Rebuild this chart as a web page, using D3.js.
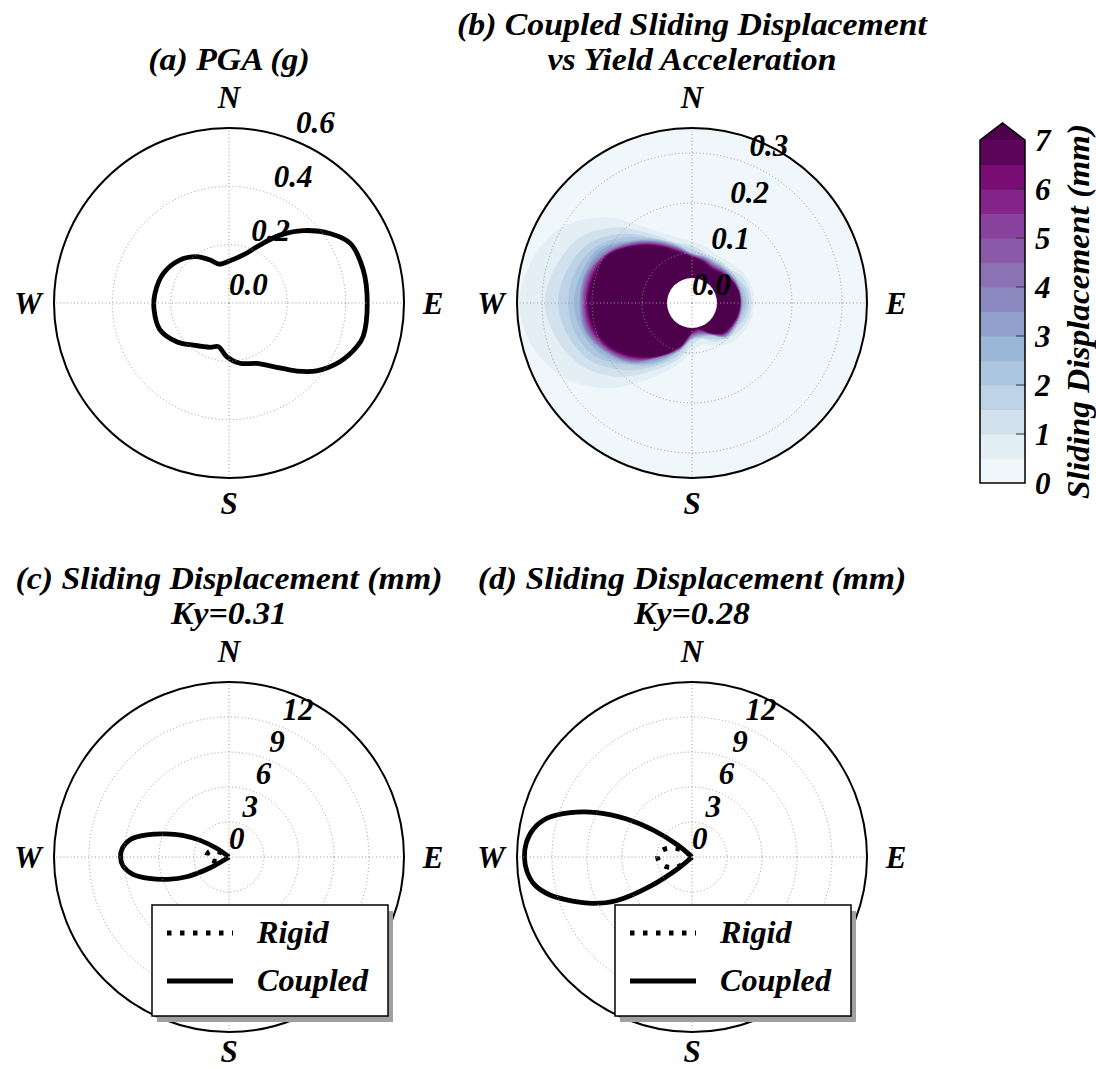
<!DOCTYPE html>
<html>
<head>
<meta charset="utf-8">
<script src="https://cdn.jsdelivr.net/npm/d3@7"></script>
<style>
  body { margin: 0; background: #fff; }
  text { font-family: "Liberation Serif", serif; font-style: italic; font-weight: bold; fill: #000; }
</style>
</head>
<body>
<svg id="chart" width="1096" height="1069"></svg>
<script>

// (a) PGA by direction (bearing in degrees clockwise from N, value in g)
const pgaBearing = [1.4, 16.6, 28, 36.9, 45.8, 55.4, 63.7, 76, 90, 104, 108.9, 117.9, 127.7, 135, 145,
    155.4, 169.7, 182.5, 193.7, 203, 220, 233.5, 249, 265, 277, 294, 311, 325, 337.7, 346];
const pgaValue = [0.145, 0.172, 0.225, 0.291, 0.356, 0.42, 0.463, 0.474, 0.474, 0.474, 0.463, 0.43, 0.38, 0.33, 0.266,
    0.228, 0.21, 0.184, 0.154, 0.165, 0.189, 0.223, 0.254, 0.258, 0.256, 0.247, 0.224, 0.194, 0.157, 0.137];

// (b) coupled sliding displacement (mm): one row per bearing, one column per yield acceleration
const fieldBearing = [0, 15, 30, 45, 60, 75, 90, 105, 120, 135, 150, 165,
    180, 195, 210, 225, 240, 255, 270, 285, 300, 315, 330, 345];
const fieldKy = [0.05, 0.075, 0.1, 0.125, 0.15, 0.175, 0.2, 0.225, 0.25, 0.275, 0.3, 0.325, 0.35];
const fieldDisp = [
    [25, 17.6, 2.0, 0.4, 0, 0, 0, 0, 0, 0, 0, 0, 0],
    [20, 10.9, 1.12, 0.08, 0, 0, 0, 0, 0, 0, 0, 0, 0],
    [15, 7.85, 0.74, 0, 0, 0, 0, 0, 0, 0, 0, 0, 0],
    [18, 9.84, 0.96, 0, 0, 0, 0, 0, 0, 0, 0, 0, 0],
    [24, 15, 1.7, 0.2, 0, 0, 0, 0, 0, 0, 0, 0, 0],
    [35, 24.6, 2.6, 0.39, 0, 0, 0, 0, 0, 0, 0, 0, 0],
    [40, 28.5, 2.9, 0.46, 0, 0, 0, 0, 0, 0, 0, 0, 0],
    [32, 21.9, 2.3, 0.31, 0, 0, 0, 0, 0, 0, 0, 0, 0],
    [24, 15.1, 1.6, 0.1, 0, 0, 0, 0, 0, 0, 0, 0, 0],
    [20, 11, 1.0, 0, 0, 0, 0, 0, 0, 0, 0, 0, 0],
    [19.6, 2.1, 0.31, 0, 0, 0, 0, 0, 0, 0, 0, 0, 0],
    [7.53, 0.88, 0, 0, 0, 0, 0, 0, 0, 0, 0, 0, 0],
    [9.18, 1.4, 0.37, 0, 0, 0, 0, 0, 0, 0, 0, 0, 0],
    [22, 13.4, 2.0, 0.65, 0.08, 0, 0, 0, 0, 0, 0, 0, 0],
    [35, 28, 20.8, 3.55, 1.15, 0.52, 0.1, 0, 0, 0, 0, 0, 0],
    [31, 25, 19, 13, 7.2, 2.0, 1.15, 0.71, 0.39, 0.11, 0, 0, 0],
    [38, 32, 26, 20, 14, 8.63, 2.8, 1.7, 1.03, 0.74, 0.47, 0.26, 0.05],
    [40, 34, 28, 22, 17, 12, 7.05, 2.6, 1.65, 1.05, 0.79, 0.55, 0.35],
    [40, 36, 30, 25, 20, 15, 8.6, 3.0, 1.9, 1.33, 0.91, 0.68, 0.46],
    [40, 34, 28, 22, 17, 12, 7.38, 2.65, 1.7, 1.08, 0.8, 0.55, 0.34],
    [38, 34, 29, 24, 19, 13.9, 3.75, 1.9, 1.15, 0.79, 0.52, 0.27, 0.05],
    [33, 28, 22, 16, 9.93, 2.6, 1.3, 0.74, 0.38, 0.07, 0, 0, 0],
    [26, 20, 14, 8.43, 1.3, 0.38, 0, 0, 0, 0, 0, 0, 0],
    [20, 14, 8.52, 0.92, 0.05, 0, 0, 0, 0, 0, 0, 0, 0]
];
const dispLevels = [0, 0.5, 1, 1.5, 2, 2.5, 3, 3.5, 4, 4.5, 5, 5.5, 6, 6.5, 7];
const cbarTicks = [0, 1, 2, 3, 4, 5, 6, 7];

// (c), (d) sliding displacement (mm) by direction
const slideBearing = [225, 230, 235, 240, 245, 250, 255, 260, 265, 270, 275, 280, 285, 290, 295, 300, 305, 310, 315];
const rigidC   = [0, 0, 0, 0, 0.6, 1.0, 1.35, 1.6, 1.8, 1.9, 1.9, 1.85, 1.75, 1.5, 1.1, 0.6, 0.2, 0, 0];
const coupledC = [0, 0, 0, 1.8, 4.0, 5.6, 7.1, 8.4, 9.1, 9.3, 9.15, 8.6, 7.3, 5.8, 4.4, 2.85, 1.3, 0, 0];
const rigidD   = [0, 0, 1.4, 1.8, 2.1, 2.4, 2.6, 2.8, 2.9, 2.95, 2.9, 2.75, 2.5, 2.2, 1.8, 1.4, 1.0, 0.5, 0];
const coupledD = [0, 1.4, 4.4, 7.5, 9.4, 11.0, 12.6, 13.7, 14.2, 14.36, 14.25, 13.8, 12.85, 11.1, 9.0, 6.55, 3.95, 1.6, 0];

const svg = d3.select("#chart");
const R = 175;
const rad = Math.PI / 180;

// Colour map (matplotlib BuPu, linear between the 9 anchors)
const bupu = d3.scaleLinear().domain(d3.range(9).map(i => i / 8)).range(d3.schemeBuPu[9]);
const bandColour = k => bupu((dispLevels[k] + dispLevels[k + 1]) / 2 / 7);
const overColour = bupu(1);

// Draw the common polar frame pieces for one panel
function polarPanel(cx, cy, rMax, ticks, tickFmt, titleLines, sOffset) {
    const g = svg.append("g").attr("transform", `translate(${cx},${cy})`);
    const r = d3.scaleLinear().domain([0, rMax]).range([0, R]);
    const layers = {
        data: g.append("g"),
        grid: g.append("g"),
        frame: g.append("g"),
        text: g.append("g")
    };

    // Grid
    layers.grid.selectAll("circle")
        .data(ticks.filter(t => t > 0))
        .join("circle")
        .attr("r", d => r(d))
        .attr("fill", "none")
        .attr("stroke", "#999")
        .attr("stroke-width", 1)
        .attr("stroke-dasharray", "1,2.5");
    layers.grid.selectAll("line")
        .data([0, 90, 180, 270])
        .join("line")
        .attr("x2", d => R * Math.sin(d * rad))
        .attr("y2", d => -R * Math.cos(d * rad))
        .attr("stroke", "#999")
        .attr("stroke-width", 1)
        .attr("stroke-dasharray", "1,2.5");

    // Outer circle
    layers.frame.append("circle")
        .attr("r", R)
        .attr("fill", "none")
        .attr("stroke", "#000")
        .attr("stroke-width", 2);

    // Radial tick labels at 22.5 deg
    layers.text.selectAll("text.rtick")
        .data(ticks)
        .join("text")
        .attr("class", "rtick")
        .attr("x", d => r(d) * Math.sin(22.5 * rad))
        .attr("y", d => -r(d) * Math.cos(22.5 * rad) - 8)
        .attr("font-size", 31)
        .text(tickFmt);

    // Compass labels
    const compass = [["N", 0, -206], ["E", 204, 0], ["S", 0, sOffset], ["W", -201, 0]];
    layers.text.selectAll("text.dir")
        .data(compass)
        .join("text")
        .attr("class", "dir")
        .attr("x", d => d[1])
        .attr("y", d => d[2])
        .attr("text-anchor", "middle")
        .attr("dominant-baseline", "central")
        .attr("font-size", 31)
        .text(d => d[0]);

    // Title (last line sits 58px above the circle), widened a little
    titleLines.forEach((t, i) => {
        g.append("text")
            .attr("transform", `translate(0,${-R - 58 - (titleLines.length - 1 - i) * 35}) scale(1.09,1)`)
            .attr("text-anchor", "middle")
            .attr("font-size", 31)
            .text(t);
    });

    return { g, r, layers };
}

// ---------- (a) PGA ----------
const pa = polarPanel(229, 303, 0.6, [0, 0.2, 0.4, 0.6], d3.format(".1f"), ["(a) PGA (g)"], 200);
pa.layers.data.append("path")
    .datum(d3.zip(pgaBearing, pgaValue))
    .attr("d", d3.lineRadial()
        .angle(d => d[0] * rad)
        .radius(d => pa.r(d[1]))
        .curve(d3.curveCatmullRomClosed.alpha(0.5)))
    .attr("fill", "none")
    .attr("stroke", "#000")
    .attr("stroke-width", 4.8)
    .attr("stroke-linejoin", "round");

// ---------- (b) displacement vs yield acceleration ----------
const pb = polarPanel(692, 303, 0.35, [0, 0.1, 0.2, 0.3], d3.format(".1f"),
    ["(b) Coupled Sliding Displacement", "vs Yield Acceleration"], 200);

// Yield acceleration where displacement drops below a level, along one bearing
function levelEdge(row, level) {
    if (row[0] < level) return fieldKy[0];
    for (let i = 0; i < row.length - 1; i++) {
        if (row[i] >= level && row[i + 1] < level) {
            return fieldKy[i] + (row[i] - level) / (row[i] - row[i + 1]) * (fieldKy[i + 1] - fieldKy[i]);
        }
    }
    return fieldKy[fieldKy.length - 1];
}

pb.g.append("clipPath").attr("id", "discB")
    .append("circle").attr("r", R);
const field = pb.layers.data.append("g").attr("clip-path", "url(#discB)");
field.append("circle").attr("r", R).attr("fill", bandColour(0));

const bandLine = d3.lineRadial()
    .angle(d => d[0] * rad)
    .radius(d => pb.r(d[1]))
    .curve(d3.curveCatmullRomClosed.alpha(0.5));

field.selectAll("path.band")
    .data(dispLevels.slice(1))
    .join("path")
    .attr("class", "band")
    .attr("d", lev => bandLine(fieldBearing.map((b, j) => [b, levelEdge(fieldDisp[j], lev)])))
    .attr("fill", (lev, i) => i + 1 < dispLevels.length - 1 ? bandColour(i + 1) : overColour);

// no data below the smallest yield acceleration
field.append("circle").attr("r", pb.r(fieldKy[0])).attr("fill", "#fff");

// ---------- (c), (d) sliding displacement ----------
function slidePanel(cx, cy, title, ky, rigid, coupled) {
    const p = polarPanel(cx, cy, 15, [0, 3, 6, 9, 12], d3.format("d"),
        ["(" + title + ") Sliding Displacement (mm)", "Ky=" + ky], 194);
    const line = d3.lineRadial()
        .angle(d => d[0] * rad)
        .radius(d => p.r(d[1]))
        .curve(d3.curveCatmullRom.alpha(0.5));

    p.layers.data.append("path")
        .datum(d3.zip(slideBearing, rigid))
        .attr("d", line)
        .attr("fill", "none")
        .attr("stroke", "#000")
        .attr("stroke-width", 4.8)
        .attr("stroke-dasharray", "4.5,8.5");
    p.layers.data.append("path")
        .datum(d3.zip(slideBearing, coupled))
        .attr("d", line)
        .attr("fill", "none")
        .attr("stroke", "#000")
        .attr("stroke-width", 4.8)
        .attr("stroke-linejoin", "round");

    // Legend
    const lg = p.g.append("g");
    lg.append("rect")
        .attr("x", -72).attr("y", 54)
        .attr("width", 236).attr("height", 111)
        .attr("fill", "#a0a0a0");
    lg.append("rect")
        .attr("x", -77).attr("y", 48)
        .attr("width", 236).attr("height", 111)
        .attr("fill", "#fff")
        .attr("stroke", "#000")
        .attr("stroke-width", 1.5);
    const items = [["Rigid", "4.5,8.5", 76], ["Coupled", null, 124]];
    items.forEach(([name, dash, y]) => {
        lg.append("line")
            .attr("x1", -62).attr("x2", 4)
            .attr("y1", y).attr("y2", y)
            .attr("stroke", "#000")
            .attr("stroke-width", 4.8)
            .attr("stroke-dasharray", dash);
        lg.append("text")
            .attr("transform", `translate(28,${y}) scale(1.04,1)`)
            .attr("dominant-baseline", "central")
            .attr("font-size", 31)
            .text(name);
    });
}

slidePanel(229, 857, "c", "0.31", rigidC, coupledC);
slidePanel(692, 857, "d", "0.28", rigidD, coupledD);

// ---------- Colour bar ----------
const cbX = 980, cbW = 45;
const cbY = d3.scaleLinear().domain([0, 7]).range([483, 140]);
const cb = svg.append("g");
cb.selectAll("rect")
    .data(d3.range(dispLevels.length - 1))
    .join("rect")
    .attr("x", cbX)
    .attr("width", cbW)
    .attr("y", k => cbY(dispLevels[k + 1]))
    .attr("height", k => cbY(dispLevels[k]) - cbY(dispLevels[k + 1]) + 0.5)
    .attr("fill", k => bandColour(k));
cb.append("path")
    .attr("d", `M${cbX},${cbY(7)}L${cbX + cbW / 2},${cbY(7) - 17}L${cbX + cbW},${cbY(7)}Z`)
    .attr("fill", overColour);
cb.selectAll("line")
    .data(cbarTicks.slice(1, -1))
    .join("line")
    .attr("x1", cbX + cbW - 9).attr("x2", cbX + cbW)
    .attr("y1", d => cbY(d)).attr("y2", d => cbY(d))
    .attr("stroke", "#333")
    .attr("stroke-width", 1);
cb.append("path")
    .attr("d", `M${cbX},${cbY(0)}L${cbX},${cbY(7)}L${cbX + cbW / 2},${cbY(7) - 17}L${cbX + cbW},${cbY(7)}L${cbX + cbW},${cbY(0)}Z`)
    .attr("fill", "none")
    .attr("stroke", "#000")
    .attr("stroke-width", 1.5);
cb.selectAll("text.tick")
    .data(cbarTicks)
    .join("text")
    .attr("class", "tick")
    .attr("x", cbX + cbW + 10)
    .attr("y", d => cbY(d))
    .attr("dominant-baseline", "central")
    .attr("font-size", 31)
    .text(d => d);
cb.append("text")
    .attr("transform", `translate(1078,${(cbY(0) + cbY(7)) / 2}) rotate(-90) scale(1.04,1)`)
    .attr("text-anchor", "middle")
    .attr("dominant-baseline", "central")
    .attr("font-size", 32)
    .text("Sliding Displacement (mm)");

</script>
</body>
</html>
